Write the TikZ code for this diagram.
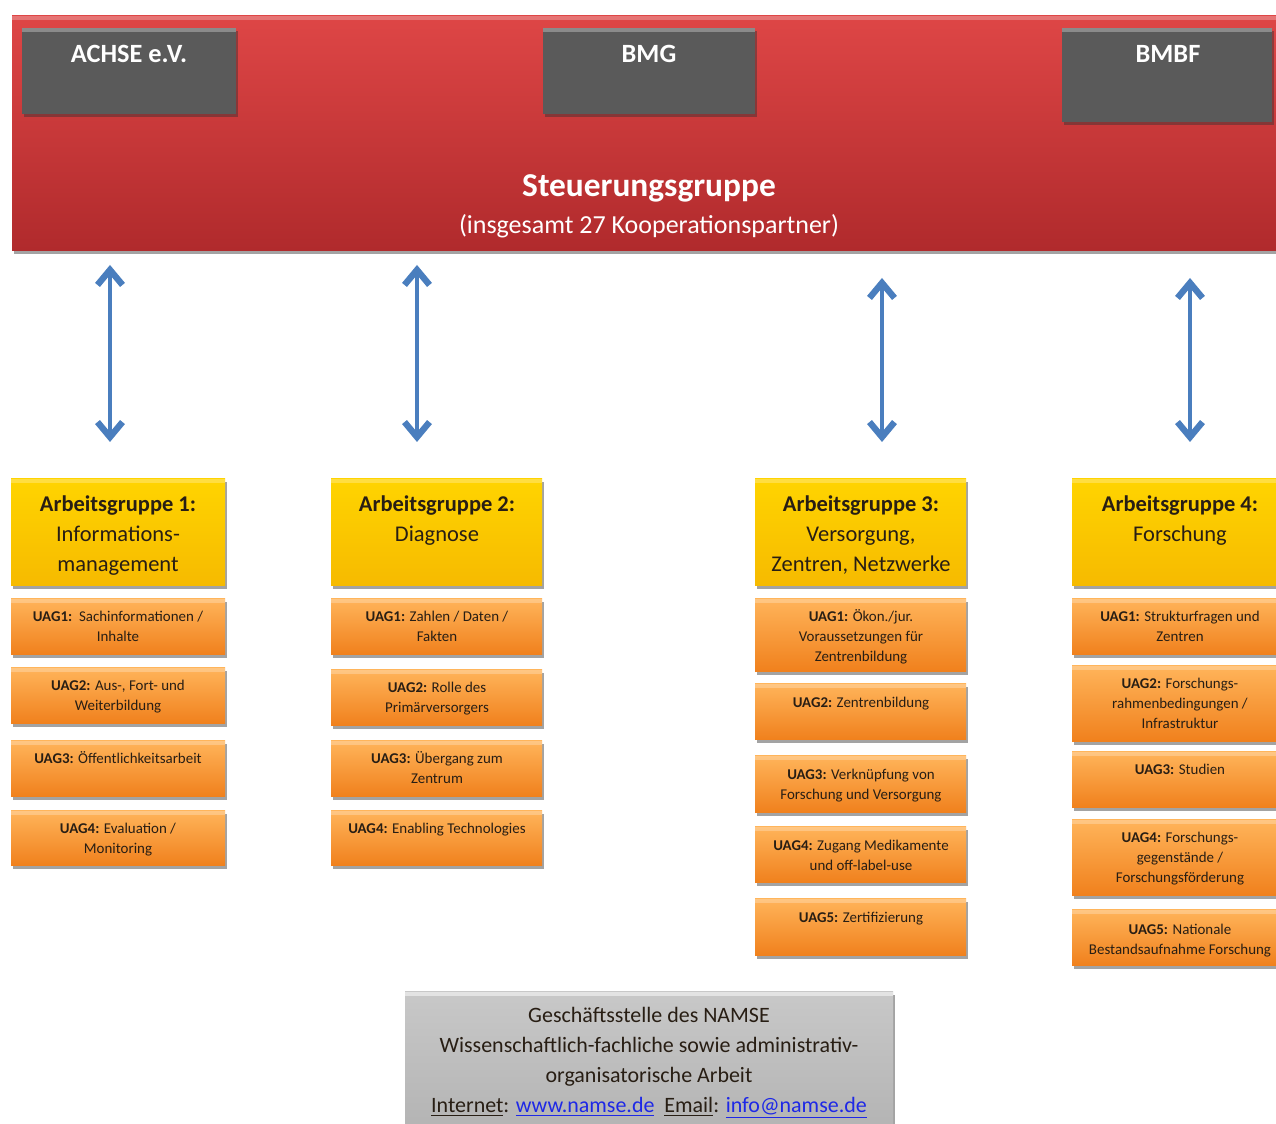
\documentclass[tikz,border=0pt]{standalone}
\usepackage{fontspec}
\setmainfont{Carlito}
\usetikzlibrary{arrows.meta,shadows,fit,calc}
\definecolor{redtop}{RGB}{222,70,70}
\definecolor{redbot}{RGB}{176,42,44}
\definecolor{greybox}{RGB}{90,90,90}
\definecolor{yeltop}{RGB}{255,212,0}
\definecolor{yelbot}{RGB}{246,186,0}
\definecolor{orgtop}{RGB}{255,180,90}
\definecolor{orgbot}{RGB}{240,128,28}
\definecolor{arrowblue}{RGB}{74,126,190}
\definecolor{bottop}{RGB}{200,200,200}
\definecolor{botbot}{RGB}{178,178,178}
\definecolor{txt}{RGB}{40,30,20}
\definecolor{linkblue}{RGB}{30,40,230}
\newcommand\mltext[1]{\begin{tabular}[t]{@{}c@{}}#1\end{tabular}}
\tikzset{
  x=0.02cm, y=-0.02cm,
  panel/.style={inner sep=0pt, outer sep=0pt, draw=none,
    drop shadow={shadow xshift=1.3pt, shadow yshift=-1.6pt, opacity=0.45, fill=black!80}},
  bevel/.style={path picture={\fill[white,opacity=#1] (path picture bounding box.north west) rectangle ([yshift=-2pt]path picture bounding box.north east);}},
  bevel/.default=0.3,
  banner/.style={panel, top color=redtop, bottom color=redbot, bevel=0.25},
  gbox/.style={panel, fill=greybox, bevel=0.3},
  ybox/.style={panel, top color=yeltop, bottom color=yelbot, bevel=0.25},
  obox/.style={panel, top color=orgtop, bottom color=orgbot, bevel=0.25},
  bbox/.style={panel, top color=bottop, bottom color=botbot, bevel=0.5},
  gtext/.style={text=white, font=\fontsize{15}{18}\selectfont\bfseries, anchor=base, inner sep=0pt},
  ytext/.style={text=txt, font=\fontsize{12.8}{17}\selectfont, anchor=base, inner sep=0pt},
  otext/.style={text=txt, font=\fontsize{8.5}{11.3}\selectfont, anchor=base, inner sep=0pt},
  btext/.style={text=txt, font=\fontsize{12.5}{17}\selectfont, anchor=base, inner sep=0pt},
  biarrow/.style={draw=arrowblue, line width=2.8pt,
    {Straight Barb[length=0.3cm, width=0.5cm, line width=3.6pt]}-{Straight Barb[length=0.3cm, width=0.5cm, line width=3.6pt]}}
}
\begin{document}
\begin{tikzpicture}
\useasboundingbox (0,0) rectangle (1276,1124);
\fill[white] (0,0) rectangle (1276,1124);
\clip (0,0) rectangle (1276,1124);

% Steering group banner
\node[banner, fit={(12,16) (1292,251)}] (banner) {};
\node[gbox, fit={(22,28) (236,114)}] (achse) {};
\node[gbox, fit={(543,28) (755,114)}] (bmg) {};
\node[gbox, fit={(1062,28) (1272,122)}] (bmbf) {};
\node[gtext] (achset) at (129,63) {ACHSE e.V.};
\node[gtext] (bmgt) at (649,63) {BMG};
\node[gtext] (bmbft) at (1168,63) {BMBF};
\node[text=white, font=\fontsize{19}{22}\selectfont\bfseries, anchor=base, inner sep=0pt] (steu) at (649,197) {Steuerungsgruppe};
\node[text=white, font=\fontsize{14.8}{18}\selectfont, anchor=base, inner sep=0pt] (steusub) at (649,234) {(insgesamt 27 Kooperationspartner)};

% Working groups
\node[ybox, fit={(11,479) (225,586)}] (ag1) {};
\node[ybox, fit={(331,479) (542,586)}] (ag2) {};
\node[ybox, fit={(755,479) (966,586)}] (ag3) {};
\node[ybox, fit={(1072,479) (1290,586)}] (ag4) {};
\node[ytext] (ag1t) at (118,512) {\mltext{\textbf{Arbeitsgruppe 1:}\\Informations-\\management}};
\node[ytext] (ag2t) at (437,512) {\mltext{\textbf{Arbeitsgruppe 2:}\\Diagnose}};
\node[ytext] (ag3t) at (861,512) {\mltext{\textbf{Arbeitsgruppe 3:}\\Versorgung,\\Zentren, Netzwerke}};
\node[ytext] (ag4t) at (1180,512) {\mltext{\textbf{Arbeitsgruppe 4:}\\Forschung}};

% Column 1
\node[obox, fit={(11,599) (225,655)}] (u11) {};
\node[obox, fit={(11,668) (225,724)}] (u12) {};
\node[obox, fit={(11,741) (225,797)}] (u13) {};
\node[obox, fit={(11,811) (225,866)}] (u14) {};
\node[otext] (u11t) at (118,622) {\mltext{\textbf{UAG1:}\ \ Sachinformationen /\\Inhalte}};
\node[otext] (u12t) at (118,691) {\mltext{\textbf{UAG2:} Aus-, Fort- und\\Weiterbildung}};
\node[otext] (u13t) at (118,764) {\mltext{\textbf{UAG3:} Öffentlichkeitsarbeit}};
\node[otext] (u14t) at (118,834) {\mltext{\textbf{UAG4:} Evaluation /\\Monitoring}};

% Column 2
\node[obox, fit={(331,599) (542,655)}] (u21) {};
\node[obox, fit={(331,670) (542,726)}] (u22) {};
\node[obox, fit={(331,741) (542,797)}] (u23) {};
\node[obox, fit={(331,811) (542,866)}] (u24) {};
\node[otext] (u21t) at (437,622) {\mltext{\textbf{UAG1:} Zahlen / Daten /\\Fakten}};
\node[otext] (u22t) at (437,693) {\mltext{\textbf{UAG2:} Rolle des\\Primärversorgers}};
\node[otext] (u23t) at (437,764) {\mltext{\textbf{UAG3:} Übergang zum\\Zentrum}};
\node[otext] (u24t) at (437,834) {\mltext{\textbf{UAG4:} Enabling Technologies}};

% Column 3
\node[obox, fit={(755,599) (966,672)}] (u31) {};
\node[obox, fit={(755,684) (966,740)}] (u32) {};
\node[obox, fit={(755,756) (966,813)}] (u33) {};
\node[obox, fit={(755,827) (966,883)}] (u34) {};
\node[obox, fit={(755,899) (966,956)}] (u35) {};
\node[otext] (u31t) at (861,622) {\mltext{\textbf{UAG1:} Ökon./jur.\\Voraussetzungen für\\Zentrenbildung}};
\node[otext] (u32t) at (861,708) {\mltext{\textbf{UAG2:} Zentrenbildung}};
\node[otext] (u33t) at (861,780) {\mltext{\textbf{UAG3:} Verknüpfung von\\Forschung und Versorgung}};
\node[otext] (u34t) at (861,851) {\mltext{\textbf{UAG4:} Zugang Medikamente\\und off-label-use}};
\node[otext] (u35t) at (861,923) {\mltext{\textbf{UAG5:} Zertifizierung}};

% Column 4
\node[obox, fit={(1072,599) (1290,655)}] (u41) {};
\node[obox, fit={(1072,666) (1290,742)}] (u42) {};
\node[obox, fit={(1072,752) (1290,808)}] (u43) {};
\node[obox, fit={(1072,820) (1290,896)}] (u44) {};
\node[obox, fit={(1072,910) (1290,966)}] (u45) {};
\node[otext] (u41t) at (1180,622) {\mltext{\textbf{UAG1:} Strukturfragen und\\Zentren}};
\node[otext] (u42t) at (1180,689) {\mltext{\textbf{UAG2:} Forschungs-\\rahmenbedingungen /\\Infrastruktur}};
\node[otext] (u43t) at (1180,775) {\mltext{\textbf{UAG3:} Studien}};
\node[otext] (u44t) at (1180,843) {\mltext{\textbf{UAG4:} Forschungs-\\gegenstände /\\Forschungsförderung}};
\node[otext] (u45t) at (1180,935) {\mltext{\textbf{UAG5:} Nationale\\Bestandsaufnahme Forschung}};

% Office
\node[bbox, fit={(405,992) (893,1140)}] (office) {};
\node[btext] (officet) at (649,1023) {\mltext{Geschäftsstelle des NAMSE\\Wissenschaftlich-fachliche sowie administrativ-\\organisatorische Arbeit\\\underline{Internet}: \textcolor{linkblue}{\underline{www.namse.de}}\ \ \underline{Email}: \textcolor{linkblue}{\underline{info@namse.de}}}};

% Arrows
\coordinate (a1t) at (110,265); \coordinate (a1b) at (110,442);
\coordinate (a2t) at (417,265); \coordinate (a2b) at (417,442);
\coordinate (a3t) at (882,278); \coordinate (a3b) at (882,442);
\coordinate (a4t) at (1190,278); \coordinate (a4b) at (1190,442);
\draw[biarrow] (a1t) -- (a1b);
\draw[biarrow] (a2t) -- (a2b);
\draw[biarrow] (a3t) -- (a3b);
\draw[biarrow] (a4t) -- (a4b);
\end{tikzpicture}
\end{document}
